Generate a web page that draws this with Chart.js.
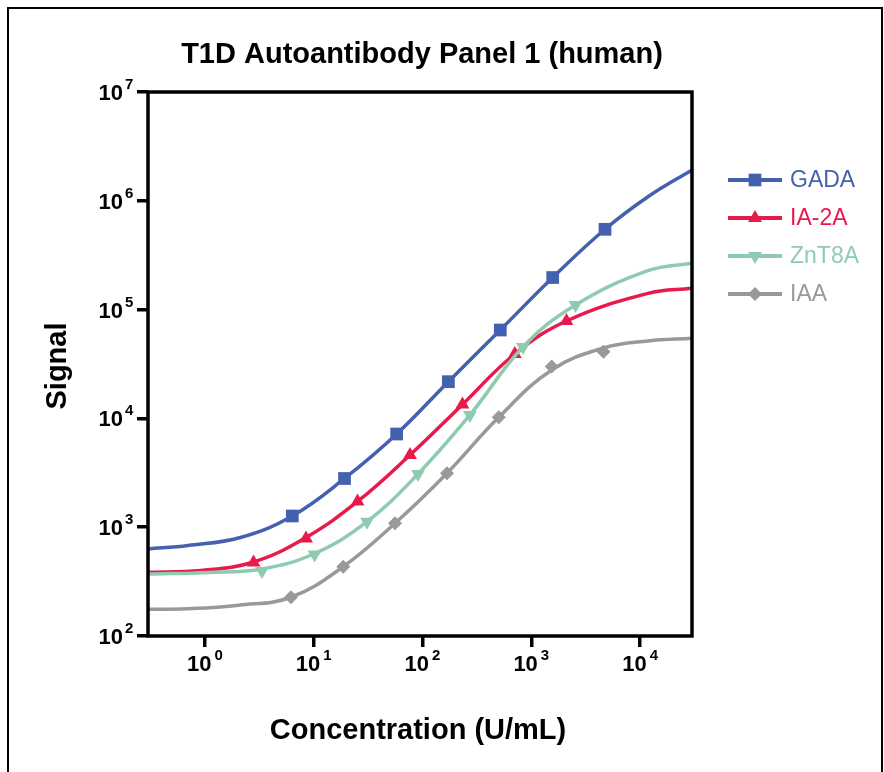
<!DOCTYPE html>
<html>
<head>
<meta charset="utf-8">
<script src="https://cdn.jsdelivr.net/npm/chart.js@4.4.1/dist/chart.umd.min.js"></script>
<style>
  html, body { margin: 0; padding: 0; background: #fff; }
  #wrap { width: 884px; height: 772px; }
</style>
</head>
<body>
<div id="wrap"><canvas id="signal" width="884" height="772"></canvas></div>
<script>
// measured points (markers) per antibody
const gadaConc = [6.36, 19.2, 57.9, 173, 519, 1573, 4758];
const gadaSignal = [1268, 2803, 7188, 21750, 64930, 197200, 547200];
const ia2aConc = [2.80, 8.50, 25.3, 76.8, 233, 705, 2106];
const ia2aSignal = [474, 787, 1723, 4608, 13420, 39080, 78590];
const znt8aConc = [3.35, 10.2, 30.9, 90.9, 273, 839, 2549];
const znt8aSignal = [396, 561, 1124, 3083, 10750, 45320, 110300];
const iaaConc = [6.18, 18.7, 55.9, 168, 502, 1540, 4609];
const iaaSignal = [227, 434, 1086, 3129, 10230, 29990, 41030];

// fitted curves
const gadaFitConc = [0.3, 0.70, 2.12, 6.36, 19.2, 57.9, 173, 519, 1573, 4758, 11820, 30000];
const gadaFitSignal = [630, 679, 804, 1268, 2803, 7188, 21750, 64930, 197200, 547200, 1090000, 1920000];
const ia2aFitConc = [0.3, 0.92, 2.80, 8.50, 25.3, 76.8, 233, 705, 2106, 11820, 30000];
const ia2aFitSignal = [385, 400, 479, 804, 1723, 4608, 13420, 39080, 78590, 141000, 157000];
const znt8aFitConc = [0.3, 1.10, 3.35, 10.2, 30.9, 90.9, 273, 839, 2549, 11820, 30000];
const znt8aFitSignal = [371, 384, 413, 573, 1124, 3083, 10750, 45320, 110300, 228000, 266500];
const iaaFitConc = [0.3, 0.68, 2.05, 6.18, 18.7, 55.9, 168, 502, 1540, 4609, 11820, 30000];
const iaaFitSignal = [176, 178, 192, 227, 434, 1086, 3129, 10230, 27860, 44360, 51450, 54500];

const seriesNames = ["GADA", "IA-2A", "ZnT8A", "IAA"];
const xTickExps = [0, 1, 2, 3, 4];
const yTickExps = [2, 3, 4, 5, 6, 7];

const FONT = '"Liberation Sans", Arial, Helvetica, sans-serif';

const series = [
  { name: seriesNames[0], conc: gadaConc, sig: gadaSignal, fitC: gadaFitConc, fitS: gadaFitSignal,
    color: "#4361ae", style: "rect", radius: 9, rotation: 0, order: 8 },
  { name: seriesNames[1], conc: ia2aConc, sig: ia2aSignal, fitC: ia2aFitConc, fitS: ia2aFitSignal,
    color: "#e8194b", style: "triangle", radius: 8, rotation: 0, order: 6 },
  { name: seriesNames[2], conc: znt8aConc, sig: znt8aSignal, fitC: znt8aFitConc, fitS: znt8aFitSignal,
    color: "#8ecbb1", style: "triangle", radius: 8, rotation: 180, order: 4 },
  { name: seriesNames[3], conc: iaaConc, sig: iaaSignal, fitC: iaaFitConc, fitS: iaaFitSignal,
    color: "#999999", style: "rectRot", radius: 7, rotation: 0, order: 2 },
];

const toXY = (xs, ys) => xs.map((x, i) => ({ x: x, y: ys[i] }));

const datasets = [];
series.forEach(s => {
  datasets.push({
    label: s.name + " fit",
    data: toXY(s.fitC, s.fitS),
    showLine: true,
    borderColor: s.color,
    borderWidth: 3.5,
    pointRadius: 0,
    tension: 0.4,
    order: s.order,
  });
  datasets.push({
    label: s.name,
    data: toXY(s.conc, s.sig),
    showLine: false,
    pointStyle: s.style,
    pointRotation: s.rotation,
    pointRadius: s.radius,
    pointBackgroundColor: s.color,
    pointBorderWidth: 0,
    order: s.order - 1,
  });
});

// superscript style tick labels, titles, frame and legend
const decorPlugin = {
  id: "decor",
  beforeDraw(chart) {
    const ctx = chart.ctx;
    ctx.save();
    ctx.fillStyle = "#fff";
    ctx.fillRect(0, 0, chart.width, chart.height);
    ctx.strokeStyle = "#000";
    ctx.lineWidth = 2;
    ctx.strokeRect(8, 8, 874, 800);
    ctx.fillStyle = "#000";
    ctx.textAlign = "center";
    ctx.textBaseline = "alphabetic";
    ctx.font = "bold 29px " + FONT;
    ctx.fillText("T1D Autoantibody Panel 1 (human)", 422, 63);
    ctx.fillText("Concentration (U/mL)", 418, 739);
    ctx.translate(66, 366);
    ctx.rotate(-Math.PI / 2);
    ctx.fillText("Signal", 0, 0);
    ctx.restore();
  },
  afterDraw(chart) {
    const ctx = chart.ctx;
    const a = chart.chartArea;
    const xs = chart.scales.x, ys = chart.scales.y;
    ctx.save();
    ctx.strokeStyle = "#000";
    ctx.lineWidth = 3.5;
    ctx.strokeRect(a.left, a.top, a.right - a.left, a.bottom - a.top);

    ctx.fillStyle = "#000";
    ctx.textBaseline = "alphabetic";
    yTickExps.forEach(e => {
      const py = ys.getPixelForValue(Math.pow(10, e));
      ctx.font = "bold 22px " + FONT;
      ctx.textAlign = "right";
      ctx.fillText("10", 123, py + 8);
      ctx.font = "bold 15px " + FONT;
      ctx.textAlign = "left";
      ctx.fillText(String(e), 125, py - 3);
    });
    xTickExps.forEach(e => {
      const px = xs.getPixelForValue(Math.pow(10, e));
      ctx.font = "bold 22px " + FONT;
      const w1 = ctx.measureText("10").width;
      ctx.font = "bold 15px " + FONT;
      const w2 = ctx.measureText(String(e)).width;
      const start = px - (w1 + 3 + w2) / 2;
      ctx.font = "bold 22px " + FONT;
      ctx.textAlign = "left";
      ctx.fillText("10", start, a.bottom + 35);
      ctx.font = "bold 15px " + FONT;
      ctx.fillText(String(e), start + w1 + 3, a.bottom + 24);
    });

    // legend: line with marker, coloured label
    series.forEach((s, i) => {
      const y = 180 + i * 38;
      ctx.strokeStyle = s.color;
      ctx.lineWidth = 4;
      ctx.beginPath();
      ctx.moveTo(728, y);
      ctx.lineTo(782, y);
      ctx.stroke();
      ctx.fillStyle = s.color;
      Chart.helpers.drawPoint(ctx, {
        pointStyle: s.style, radius: s.radius, rotation: s.rotation, borderWidth: 0
      }, 755, y);
      ctx.font = "23px " + FONT;
      ctx.textAlign = "left";
      ctx.textBaseline = "middle";
      ctx.fillText(s.name, 790, y + 1);
    });
    ctx.restore();
  }
};

new Chart(document.getElementById("signal"), {
  type: "scatter",
  data: { datasets: datasets },
  options: {
    responsive: false,
    devicePixelRatio: 1,
    animation: false,
    layout: { padding: { left: 0, top: 92, right: 192, bottom: 116 } },
    plugins: { legend: { display: false }, tooltip: { enabled: false } },
    scales: {
      x: {
        type: "logarithmic",
        min: 0.3,
        max: 30000,
        afterBuildTicks: s => { s.ticks = xTickExps.map(e => ({ value: Math.pow(10, e) })); },
        afterFit: s => { s.height = 20; },
        ticks: { display: false },
        border: { display: false },
        grid: { drawOnChartArea: false, drawTicks: true, tickLength: 11, lineWidth: 3.5, color: "#000" },
      },
      y: {
        type: "logarithmic",
        min: 100,
        max: 10000000,
        afterBuildTicks: s => { s.ticks = yTickExps.map(e => ({ value: Math.pow(10, e) })); },
        afterFit: s => { s.width = 148; },
        ticks: { display: false },
        border: { display: false },
        grid: { drawOnChartArea: false, drawTicks: true, tickLength: 11, lineWidth: 3.5, color: "#000" },
      },
    },
  },
  plugins: [decorPlugin],
});
</script>
</body>
</html>
